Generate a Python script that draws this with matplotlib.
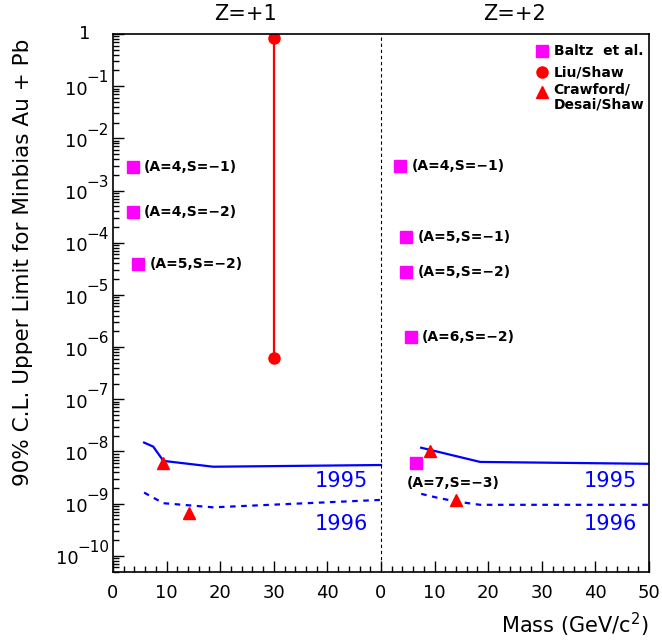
import numpy as np
import matplotlib.pyplot as plt
import matplotlib.transforms as mtransforms
from matplotlib.ticker import FixedLocator, MultipleLocator, NullFormatter

plt.rcParams['font.family'] = ['DejaVu Sans']
plt.rcParams['mathtext.fontset'] = 'dejavusans'

#---------------------Data (mass in GeV/c^2)---------------------
# Z=+1 panel
baltz1_m = [3.7, 3.7, 4.7]
baltz1_v = [2.8e-3, 3.9e-4, 3.9e-5]
baltz1_lab = ['(A=4,S=\u22121)', '(A=4,S=\u22122)', '(A=5,S=\u22122)']
liu_m = [30, 30]
liu_v = [0.84, 6.2e-7]
craw1_m = [9.4, 14.1]
craw1_v = [6.0e-9, 6.6e-10]
lim95_1_m = [5.8, 7.5, 9.4, 18.7, 50]
lim95_1_v = [1.48e-8, 1.24e-8, 6.6e-9, 5.1e-9, 5.5e-9]
lim96_1_m = [5.8, 9.4, 18.7, 50]
lim96_1_v = [1.63e-9, 1.02e-9, 8.5e-10, 1.18e-9]
# Z=+2 panel
baltz2_m = [3.6, 4.7, 4.7, 5.6, 6.5]
baltz2_v = [2.9e-3, 1.3e-4, 2.8e-5, 1.55e-6, 5.9e-9]
baltz2_lab = ['(A=4,S=\u22121)', '(A=5,S=\u22121)', '(A=5,S=\u22122)',
              '(A=6,S=\u22122)', '(A=7,S=\u22123)']
craw2_m = [9.2, 14.0]
craw2_v = [1.04e-8, 1.15e-9]
lim95_2_m = [7.5, 18.5, 50]
lim95_2_v = [1.18e-8, 6.3e-9, 5.8e-9]
lim96_2_m = [7.5, 10.5, 14.0, 18.5, 50]
lim96_2_v = [1.54e-9, 1.3e-9, 1.1e-9, 9.5e-10, 9.5e-10]

xtick_labels = ['0', '10', '20', '30', '40', '0', '10', '20', '30', '40', '50']
ytick_exp = list(range(-1, -11, -1))

Offset = 50  # right panel starts at x=50
blue = '#0000ff'
red = '#ff0000'
mag = '#ff00ff'

fig = plt.figure(figsize=(6.62, 6.43), dpi=100)
ax = fig.add_axes([113/662, 71/643, 536/662, 538/643])
ax.set_yscale('log')
ax.set_xlim(0, 100)
ax.set_ylim(4.9e-11, 1.0)

# limits
ax.plot(lim95_1_m, lim95_1_v, color=blue, lw=1.6)
ax.plot(lim96_1_m, lim96_1_v, color=blue, lw=1.6, ls=(0, (2.5, 2.5)))
ax.plot(np.array(lim95_2_m) + Offset, lim95_2_v, color=blue, lw=1.6)
ax.plot(np.array(lim96_2_m) + Offset, lim96_2_v, color=blue, lw=1.6, ls=(0, (2.5, 2.5)))

# Liu/Shaw
ax.plot(liu_m, liu_v, color=red, lw=1.6, marker='o', ms=8)
# Crawford/Desai/Shaw
ax.plot(craw1_m, craw1_v, ls='none', marker='^', ms=9, color=red)
ax.plot(np.array(craw2_m) + Offset, craw2_v, ls='none', marker='^', ms=9, color=red)
# Baltz
ax.plot(baltz1_m, baltz1_v, ls='none', marker='s', ms=8.5, color=mag)
ax.plot(np.array(baltz2_m) + Offset, baltz2_v, ls='none', marker='s', ms=8.5, color=mag)

for m, v, t in zip(baltz1_m, baltz1_v, baltz1_lab):
    ax.annotate(t, (m, v), xytext=(8, 0), textcoords='offset points',
                fontsize=10, fontweight='bold', va='center', ha='left')
for i, (m, v, t) in enumerate(zip(baltz2_m, baltz2_v, baltz2_lab)):
    if i == len(baltz2_m) - 1:
        ax.annotate(t, (m + Offset, v), xytext=(-6.3, -14.4), textcoords='offset points',
                    fontsize=10, fontweight='bold', va='center', ha='left')
    else:
        ax.annotate(t, (m + Offset, v), xytext=(8, 0), textcoords='offset points',
                    fontsize=10, fontweight='bold', va='center', ha='left')

# year labels
for xr in [47.6, 97.8]:
    ax.text(xr, 2.7e-9, '1995', color=blue, fontsize=15, ha='right', va='center')
    ax.text(xr, 4.1e-10, '1996', color=blue, fontsize=15, ha='right', va='center')

# divider
ax.axvline(Offset, color='black', lw=0.8, ls=(0, (3, 2.5)))

# legend drawn by hand
lx, tx = 0.80, 0.822
ax.plot([lx], [0.968], marker='s', ms=8.5, color=mag, transform=ax.transAxes, clip_on=False)
ax.plot([lx], [0.929], marker='o', ms=8, color=red, transform=ax.transAxes, clip_on=False)
ax.plot([lx], [0.893], marker='^', ms=8.5, color=red, transform=ax.transAxes, clip_on=False)
ax.text(tx, 0.968, 'Baltz  et al.', transform=ax.transAxes, fontsize=10, fontweight='bold', va='center')
ax.text(tx, 0.929, 'Liu/Shaw', transform=ax.transAxes, fontsize=10, fontweight='bold', va='center')
ax.text(tx, 0.910, 'Crawford/\nDesai/Shaw', transform=ax.transAxes, fontsize=10,
        fontweight='bold', va='top', linespacing=1.1)

# axes
ax.xaxis.set_major_locator(FixedLocator(np.arange(0, 101, 10)))
ax.set_xticklabels(xtick_labels)
ax.xaxis.set_minor_locator(MultipleLocator(2))
ax.yaxis.set_major_locator(FixedLocator([10.0**e for e in range(0, -11, -1)]))
ax.yaxis.set_major_formatter(NullFormatter())
ymin = [k * 10.0**e for e in range(-11, 0) for k in range(2, 10)]
ax.yaxis.set_minor_locator(FixedLocator(ymin))
ax.yaxis.set_minor_formatter(NullFormatter())
ax.tick_params(which='both', direction='in', top=False, right=False, labelsize=13, width=1)
ax.tick_params(which='major', length=8)
ax.tick_params(which='minor', length=4)
ax.tick_params(axis='x', pad=9)
for s in ax.spines.values():
    s.set_linewidth(1.2)

# y tick labels: 10 with a raised exponent
trans = mtransforms.blended_transform_factory(ax.transAxes, ax.transData)
sup_tr = mtransforms.offset_copy(trans, fig=fig, x=0, y=6, units='points')
ax.text(-23/536, 1.0, '1', transform=trans, fontsize=13, ha='right', va='center')
for e in ytick_exp:
    sup = ax.text(-4/536, 10.0**e, '\u2212%d' % (-e), transform=sup_tr,
                  fontsize=11, ha='right', va='center')
    ax.annotate('10', xy=(0, 0.5), xycoords=sup, xytext=(1, -8.6), textcoords='offset points',
                fontsize=13, ha='right', va='center')

ax.set_ylabel('90% C.L. Upper Limit for Minbias Au + Pb', fontsize=15.5)
ax.yaxis.set_label_coords(-0.149, 0.575)
fig.text(649/662, 1 - 625/643, r'Mass (GeV/c$^{2}$)', fontsize=15, ha='right', va='center')
fig.text(245/662, 1 - 14/643, 'Z=+1', fontsize=15, ha='center', va='center')
fig.text(515/662, 1 - 14/643, 'Z=+2', fontsize=15, ha='center', va='center')

fig.savefig('out.png', dpi=100)
